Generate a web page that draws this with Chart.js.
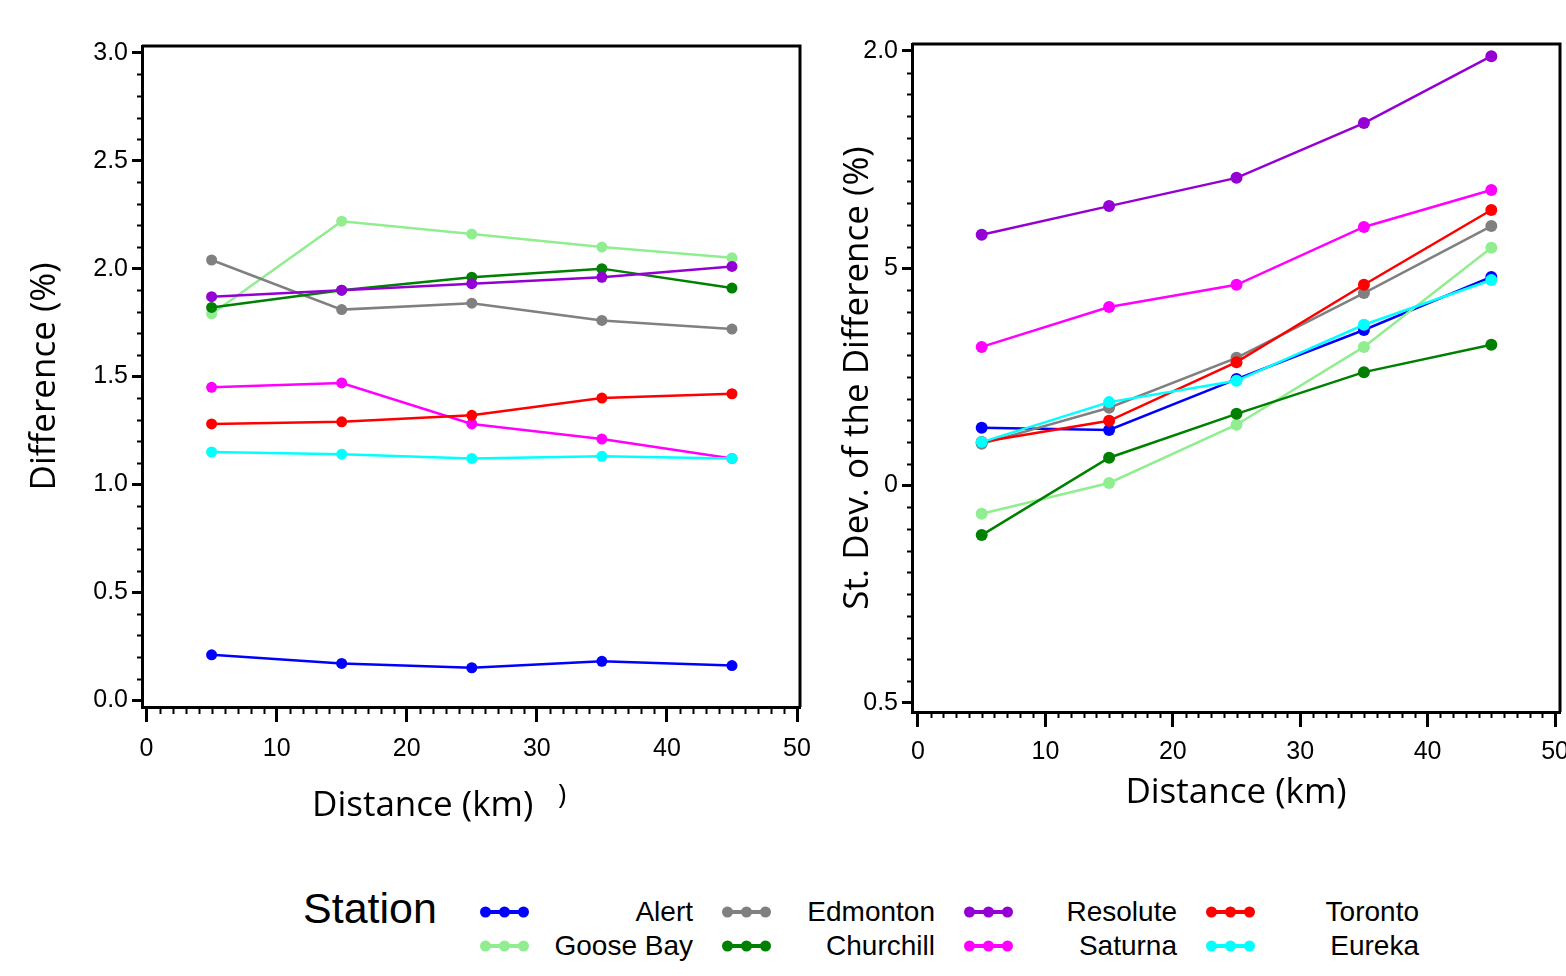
<!DOCTYPE html>
<html>
<head>
<meta charset="utf-8">
<script src="https://cdn.jsdelivr.net/npm/chart.js@4.4.1/dist/chart.umd.min.js"></script>
<style>
  body { margin: 0; background: #fff; width: 1566px; height: 976px; overflow: hidden; position: relative; font-family: "Liberation Sans", Arial, sans-serif; }
  #meanChart { position: absolute; left: 0; top: 0; }
  #sdChart { position: absolute; left: 815px; top: 0; }
  .xtitle { position: absolute; font-family: "Open Sans", sans-serif; font-size: 35px; line-height: 42px; white-space: nowrap; }
  #legtitle { position: absolute; left: 303px; top: 883px; font-size: 43px; line-height: 50px; }
  #legitems { position: absolute; left: 480px; top: 895px; display: grid; grid-template-columns: repeat(4, 242px); grid-template-rows: 34px 34px; grid-auto-flow: column; }
  .item { display: flex; align-items: center; }
  .item span { width: 164px; text-align: right; font-size: 28px; }
</style>
</head>
<body>
<canvas id="meanChart" width="815" height="840"></canvas>
<canvas id="sdChart" width="751" height="840"></canvas>
<div class="xtitle" style="left:312px; top:782px;">Distance (km)</div>
<div class="xtitle" style="left:558px; top:772px; font-size:28px;">)</div>
<div id="legtitle">Station</div>
<div id="legitems"></div>

<script>
// distance bins (km)
const distance = [5, 15, 25, 35, 45];
const stations = ['Alert', 'Goose Bay', 'Edmonton', 'Churchill', 'Resolute', 'Saturna', 'Toronto', 'Eureka'];
const colors = ['#0000ff', '#90ee90', '#808080', '#008000', '#9400d3', '#ff00ff', '#ff0000', '#00ffff'];

// left panel: Difference (%)
const diffAlert    = [0.21, 0.17, 0.15, 0.18, 0.16];
const diffGoose    = [1.79, 2.22, 2.16, 2.10, 2.05];
const diffEdmonton = [2.04, 1.81, 1.84, 1.76, 1.72];
const diffChurch   = [1.82, 1.90, 1.96, 2.00, 1.91];
const diffResolute = [1.87, 1.90, 1.93, 1.96, 2.01];
const diffSaturna  = [1.45, 1.47, 1.28, 1.21, 1.12];
const diffToronto  = [1.28, 1.29, 1.32, 1.40, 1.42];
const diffEureka   = [1.15, 1.14, 1.12, 1.13, 1.12];

// right panel: St. Dev. of the Difference (%)
const sdAlert    = [1.133, 1.128, 1.245, 1.358, 1.480];
const sdGoose    = [0.935, 1.006, 1.140, 1.319, 1.547];
const sdEdmonton = [1.096, 1.179, 1.294, 1.443, 1.597];
const sdChurch   = [0.886, 1.064, 1.165, 1.261, 1.324];
const sdResolute = [1.577, 1.643, 1.708, 1.834, 1.988];
const sdSaturna  = [1.319, 1.411, 1.462, 1.595, 1.680];
const sdToronto  = [1.100, 1.149, 1.284, 1.462, 1.634];
const sdEureka   = [1.100, 1.192, 1.241, 1.370, 1.473];

const xTicks = [0, 10, 20, 30, 40, 50];
const diffTicks = ['0.0', '0.5', '1.0', '1.5', '2.0', '2.5', '3.0'];
const sdTicks = ['0.5', '0', '5', '2.0'];   // as printed on the figure

const diffSeries = [diffAlert, diffGoose, diffEdmonton, diffChurch, diffResolute, diffSaturna, diffToronto, diffEureka];
const sdSeries = [sdAlert, sdGoose, sdEdmonton, sdChurch, sdResolute, sdSaturna, sdToronto, sdEureka];

const tickFont = { family: '"Liberation Sans", Arial, sans-serif', size: 25 };

// minor tick marks + box frame
const frameTicks = {
  id: 'frameTicks',
  afterDraw(chart, args, opts) {
    const ctx = chart.ctx;
    const area = chart.chartArea;
    ctx.save();
    ctx.strokeStyle = '#000';
    ctx.lineWidth = 2;
    ['x', 'y'].forEach(id => {
      const s = chart.scales[id];
      const o = opts[id];
      for (let k = Math.ceil(s.min / o.step); k * o.step <= s.max + 1e-9; k++) {
        const v = k * o.step;
        const r = v / o.major;
        if (Math.abs(r - Math.round(r)) < 1e-6) continue;
        const p = Math.round(s.getPixelForValue(v)) + 0.5;
        ctx.beginPath();
        if (id === 'x') { ctx.moveTo(p, area.bottom); ctx.lineTo(p, area.bottom + o.len); }
        else { ctx.moveTo(area.left - o.len, p); ctx.lineTo(area.left, p); }
        ctx.stroke();
      }
    });
    ctx.lineWidth = 3;
    ctx.beginPath();
    ctx.moveTo(area.left, area.top);
    ctx.lineTo(area.right, area.top);
    ctx.lineTo(area.right, area.bottom);
    ctx.stroke();
    ctx.restore();
  }
};

function makeDatasets(series, radius) {
  return series.map((vals, i) => ({
    label: stations[i],
    data: vals.map((v, j) => ({ x: distance[j], y: v })),
    borderColor: colors[i],
    backgroundColor: colors[i],
    pointBackgroundColor: colors[i],
    pointBorderWidth: 0,
    pointRadius: radius,
    borderWidth: 2.5,
    order: series.length - i
  }));
}

function makeChart(canvasId, series, cfg) {
  return new Chart(document.getElementById(canvasId), {
    type: 'line',
    data: { datasets: makeDatasets(series, cfg.radius) },
    plugins: [frameTicks],
    options: {
      responsive: false,
      animation: false,
      layout: { padding: cfg.padding },
      plugins: {
        legend: { display: false },
        tooltip: { enabled: false },
        frameTicks: cfg.minor
      },
      scales: {
        x: {
          type: 'linear',
          min: cfg.xmin, max: cfg.xmax,
          afterFit: s => { s.height = cfg.xHeight; s.paddingLeft = 0; s.paddingRight = 0; },
          border: { color: '#000', width: 3 },
          grid: { drawOnChartArea: false, tickLength: 15, tickWidth: 3, tickColor: '#000' },
          ticks: {
            stepSize: 10, includeBounds: false, color: '#000', font: tickFont, padding: cfg.xPad, maxRotation: 0,
            callback: v => xTicks.includes(v) ? String(v) : ''
          },
          title: cfg.xTitle
        },
        y: {
          type: 'linear',
          min: cfg.ymin, max: cfg.ymax,
          afterFit: s => { s.width = cfg.yWidth; s.paddingTop = 0; s.paddingBottom = 0; },
          border: { color: '#000', width: 3 },
          grid: { drawOnChartArea: false, tickLength: 10, tickWidth: 3, tickColor: '#000' },
          ticks: {
            stepSize: 0.5, includeBounds: false, color: '#000', font: tickFont, padding: 4,
            callback: cfg.yLabel
          },
          title: {
            display: true, text: cfg.yTitle, color: '#000',
            font: { family: '"Open Sans", sans-serif', size: 35, lineHeight: 1.2 },
            padding: { top: cfg.yTitlePad, bottom: 0 }
          }
        }
      }
    }
  });
}

makeChart('meanChart', diffSeries, {
  radius: 5.5,
  padding: { left: 0, top: 46, right: 15, bottom: 0 },
  xmin: -0.35, xmax: 50.23, ymin: -0.032, ymax: 3.032,
  xHeight: 133, yWidth: 142, xPad: 12,
  xTitle: { display: false },
  yTitle: 'Difference (%)', yTitlePad: 24,
  yLabel: v => diffTicks[Math.round(v / 0.5)],
  minor: { x: { step: 1, major: 10, len: 7 }, y: { step: 0.1, major: 0.5, len: 5 } }
});

makeChart('sdChart', sdSeries, {
  radius: 6,
  padding: { left: 0, top: 44, right: 6, bottom: 0 },
  xmin: -0.47, xmax: 50.39, ymin: 0.479, ymax: 2.016,
  xHeight: 128, yWidth: 97, xPad: 10,
  xTitle: {
    display: true, text: 'Distance (km)', color: '#000',
    font: { family: '"Open Sans", sans-serif', size: 35, lineHeight: 1.2 },
    padding: { top: 0, bottom: 26 }
  },
  yTitle: 'St. Dev. of the Difference (%)', yTitlePad: 22,
  yLabel: v => sdTicks[Math.round((v - 0.5) / 0.5)],
  minor: { x: { step: 1, major: 10, len: 6 }, y: { step: 0.05, major: 0.5, len: 5 } }
});

// legend built from the station list
const legend = document.getElementById('legitems');
stations.forEach((name, i) => {
  const item = document.createElement('div');
  item.className = 'item';
  item.innerHTML =
    '<svg width="49" height="14"><line x1="5" y1="7" x2="44" y2="7" stroke="' + colors[i] + '" stroke-width="4"/>' +
    [5.5, 24.5, 43.5].map(cx => '<circle cx="' + cx + '" cy="7" r="5.5" fill="' + colors[i] + '"/>').join('') +
    '</svg><span>' + name + '</span>';
  legend.appendChild(item);
});
</script>
</body>
</html>
